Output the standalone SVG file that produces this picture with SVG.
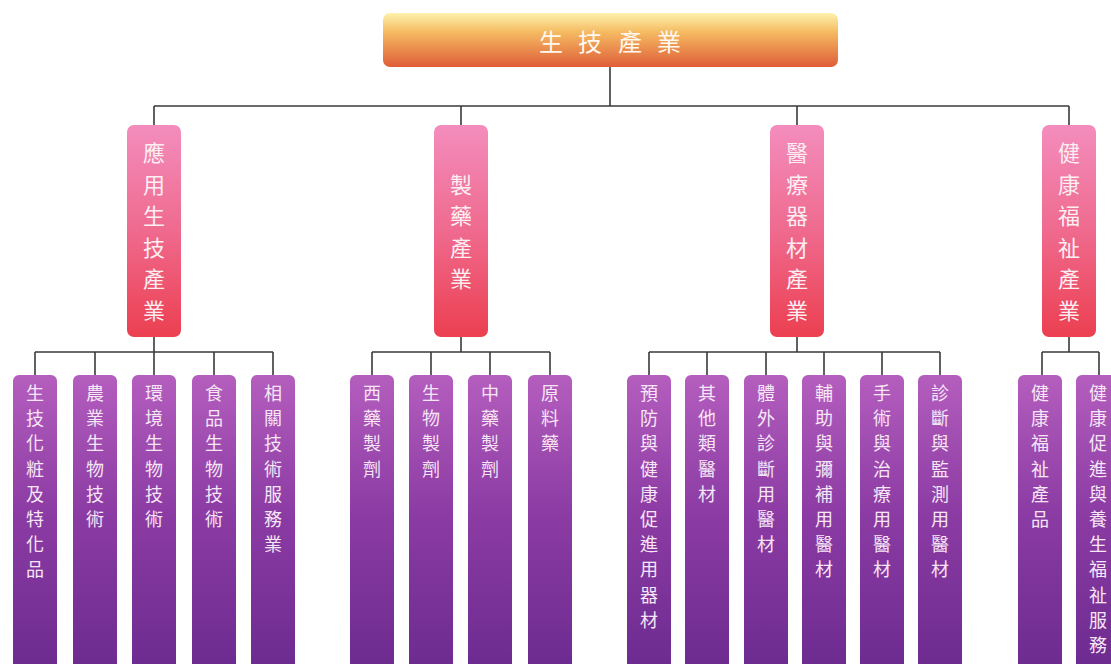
<svg xmlns="http://www.w3.org/2000/svg" width="1111" height="664" viewBox="0 0 1111 664">
<defs>
<linearGradient id="gTop" x1="0" y1="0" x2="0" y2="1">
<stop offset="0" stop-color="#fdf2ad"/>
<stop offset="0.35" stop-color="#f5bb62"/>
<stop offset="1" stop-color="#df5d38"/>
</linearGradient>
<linearGradient id="gCat" x1="0" y1="0" x2="0" y2="1">
<stop offset="0" stop-color="#f38dbd"/>
<stop offset="0.5" stop-color="#ef6a8e"/>
<stop offset="1" stop-color="#ec3f50"/>
</linearGradient>
<linearGradient id="gLeaf" x1="0" y1="0" x2="0" y2="1">
<stop offset="0" stop-color="#b45ebe"/>
<stop offset="0.45" stop-color="#8c3ca4"/>
<stop offset="1" stop-color="#6b2a8f"/>
</linearGradient>
<style>
.top{fill:url(#gTop);}
.cat{fill:url(#gCat);}
.leaf{fill:url(#gLeaf);}
.tt{font-family:"Noto Sans CJK TC","Noto Sans CJK SC",sans-serif;font-size:24px;fill:#fff8ee;text-anchor:middle;dominant-baseline:central;}
.ct{font-family:"Noto Sans CJK TC","Noto Sans CJK SC",sans-serif;font-size:22px;fill:#fdeef2;text-anchor:middle;dominant-baseline:central;}
.lt{font-family:"Noto Sans CJK TC","Noto Sans CJK SC",sans-serif;font-size:18px;fill:#f6e6f6;text-anchor:middle;dominant-baseline:central;}
.ln{stroke:#3a3a3a;stroke-width:1.6;fill:none;}
</style>
</defs>
<rect width="1111" height="664" fill="#ffffff"/>
<g id="connectors" class="ln">
<path d="M610 67V106M154 106H1069M154 106V125M461 106V125M797 106V125M1069 106V125"/>
<path d="M154 337V352M35 352H273M35 352V375M95 352V375M154 352V375M214 352V375M273 352V375"/>
<path d="M461 337V352M372 352H550M372 352V375M431 352V375M490 352V375M550 352V375"/>
<path d="M797 337V352M649 352H940M649 352V375M707 352V375M766 352V375M824 352V375M882 352V375M940 352V375"/>
<path d="M1069 337V352M1042 352H1099M1042 352V375M1099 352V375"/>
</g>
<g id="root">
<rect class="top" x="383" y="13" width="455" height="54" rx="7"/>
<text class="tt" x="551 590 630 669" y="40 40 40 40">生技產業</text>
</g>
<g id="cat1"><rect class="cat" x="127" y="125" width="54" height="212" rx="7"/>
<text class="ct" x="154 154 154 154 154 154" y="151 183 214 246 277 309">應用生技產業</text></g>
<g id="cat2"><rect class="cat" x="434" y="125" width="54" height="212" rx="7"/>
<text class="ct" x="461 461 461 461" y="183 214 246 277">製藥產業</text></g>
<g id="cat3"><rect class="cat" x="770" y="125" width="54" height="212" rx="7"/>
<text class="ct" x="797 797 797 797 797 797" y="151 183 214 246 277 309">醫療器材產業</text></g>
<g id="cat4"><rect class="cat" x="1042" y="125" width="54" height="212" rx="7"/>
<text class="ct" x="1069 1069 1069 1069 1069 1069" y="151 183 214 246 277 309">健康福祉產業</text></g>

<g id="leaf1"><rect class="leaf" x="13" y="375" width="44" height="300" rx="6"/>
<text class="lt" x="35 35 35 35 35 35 35 35" y="392 417 442 468 493 518 543 568">生技化粧及特化品</text></g>
<g id="leaf2"><rect class="leaf" x="73" y="375" width="44" height="300" rx="6"/>
<text class="lt" x="95 95 95 95 95 95" y="392 417 442 468 493 518">農業生物技術</text></g>
<g id="leaf3"><rect class="leaf" x="132" y="375" width="44" height="300" rx="6"/>
<text class="lt" x="154 154 154 154 154 154" y="392 417 442 468 493 518">環境生物技術</text></g>
<g id="leaf4"><rect class="leaf" x="192" y="375" width="44" height="300" rx="6"/>
<text class="lt" x="214 214 214 214 214 214" y="392 417 442 468 493 518">食品生物技術</text></g>
<g id="leaf5"><rect class="leaf" x="251" y="375" width="44" height="300" rx="6"/>
<text class="lt" x="273 273 273 273 273 273 273" y="392 417 442 468 493 518 543">相關技術服務業</text></g>

<g id="leaf6"><rect class="leaf" x="350" y="375" width="44" height="300" rx="6"/>
<text class="lt" x="372 372 372 372" y="392 417 442 468">西藥製劑</text></g>
<g id="leaf7"><rect class="leaf" x="409" y="375" width="44" height="300" rx="6"/>
<text class="lt" x="431 431 431 431" y="392 417 442 468">生物製劑</text></g>
<g id="leaf8"><rect class="leaf" x="468" y="375" width="44" height="300" rx="6"/>
<text class="lt" x="490 490 490 490" y="392 417 442 468">中藥製劑</text></g>
<g id="leaf9"><rect class="leaf" x="528" y="375" width="44" height="300" rx="6"/>
<text class="lt" x="550 550 550" y="392 417 442">原料藥</text></g>

<g id="leaf10"><rect class="leaf" x="627" y="375" width="44" height="300" rx="6"/>
<text class="lt" x="649 649 649 649 649 649 649 649 649 649" y="392 417 442 468 493 518 543 568 594 619">預防與健康促進用器材</text></g>
<g id="leaf11"><rect class="leaf" x="685" y="375" width="44" height="300" rx="6"/>
<text class="lt" x="707 707 707 707 707" y="392 417 442 468 493">其他類醫材</text></g>
<g id="leaf12"><rect class="leaf" x="744" y="375" width="44" height="300" rx="6"/>
<text class="lt" x="766 766 766 766 766 766 766" y="392 417 442 468 493 518 543">體外診斷用醫材</text></g>
<g id="leaf13"><rect class="leaf" x="802" y="375" width="44" height="300" rx="6"/>
<text class="lt" x="824 824 824 824 824 824 824 824" y="392 417 442 468 493 518 543 568">輔助與彌補用醫材</text></g>
<g id="leaf14"><rect class="leaf" x="860" y="375" width="44" height="300" rx="6"/>
<text class="lt" x="882 882 882 882 882 882 882 882" y="392 417 442 468 493 518 543 568">手術與治療用醫材</text></g>
<g id="leaf15"><rect class="leaf" x="918" y="375" width="44" height="300" rx="6"/>
<text class="lt" x="940 940 940 940 940 940 940 940" y="392 417 442 468 493 518 543 568">診斷與監測用醫材</text></g>

<g id="leaf16"><rect class="leaf" x="1018" y="375" width="44" height="300" rx="6"/>
<text class="lt" x="1040 1040 1040 1040 1040 1040" y="392 417 442 468 493 518">健康福祉產品</text></g>
<g id="leaf17"><rect class="leaf" x="1076" y="375" width="44" height="300" rx="6"/>
<text class="lt" x="1098 1098 1098 1098 1098 1098 1098 1098 1098 1098 1098" y="392 417 442 468 493 518 543 568 594 619 644">健康促進與養生福祉服務</text></g>
</svg>
